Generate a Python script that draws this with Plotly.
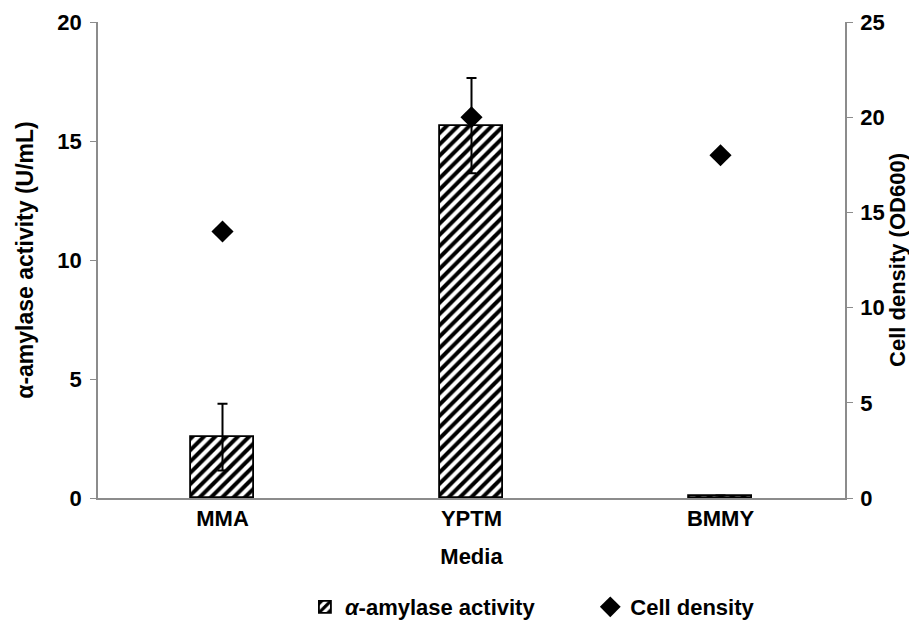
import plotly.graph_objects as go

media = ["MMA", "YPTM", "BMMY"]
amylase = [2.56, 15.65, 0.1]
amylase_err = [1.4, 2.0, 0.0]
cell_density = [14.0, 20.0, 18.0]

font_family = "Liberation Sans, Arial, sans-serif"
FS = 22
FT = 23

fig = go.Figure()
fig.add_trace(go.Bar(
    x=media, y=amylase, name="<b><i>α</i>-amylase activity</b>",
    width=0.25, legend="legend",
    marker=dict(color="white", line=dict(color="black", width=1.8),
                pattern=dict(shape="/", fgcolor="black", bgcolor="white", size=8, solidity=0.5,
                             fgopacity=1)),
    error_y=dict(type="data", array=amylase_err, visible=True, color="black", thickness=2, width=5),
))
fig.add_trace(go.Scatter(
    x=media, y=cell_density, name="<b>Cell density</b>", mode="markers", yaxis="y2",
    legend="legend2",
    marker=dict(symbol="diamond", size=17, color="black"),
))

axis_common = dict(showline=True, linecolor="#8c8c8c", linewidth=1.5, ticks="outside",
                   tickcolor="#8c8c8c", ticklen=6, showgrid=False, zeroline=False,
                   automargin=False,
                   tickfont=dict(family=font_family, size=FS, color="black"))

fig.update_layout(
    width=909, height=613,
    margin=dict(l=90, r=72, t=14, b=123),
    plot_bgcolor="white", paper_bgcolor="white",
    font=dict(family=font_family, color="black"),
    showlegend=True,
    legend=dict(orientation="h", x=0.277, xanchor="left", yref="container", y=0.0228, yanchor="middle",
                font=dict(size=FS, family=font_family), itemwidth=30, bgcolor="rgba(0,0,0,0)"),
    legend2=dict(orientation="h", x=0.659, xanchor="left", yref="container", y=0.0228, yanchor="middle",
                 font=dict(size=FS, family=font_family), itemwidth=30, bgcolor="rgba(0,0,0,0)"),
    xaxis=dict(**{k: v for k, v in axis_common.items() if k != "ticks"}, ticks="",
               ticklabelstandoff=0,
               title=dict(text="<b>Media</b>", font=dict(size=FS), standoff=18),
               tickprefix="<b>", ticksuffix="</b>"),
    yaxis=dict(**axis_common, range=[0, 20], dtick=5, ticklabelstandoff=4,
               title=dict(text="<b>α-amylase activity (U/mL)</b>", font=dict(size=FT), standoff=17),
               tickprefix="<b>", ticksuffix="</b>"),
    yaxis2=dict(**axis_common, range=[0, 25], dtick=5, overlaying="y", side="right",
                ticklabelstandoff=3,
                title=dict(text="<b>Cell density (OD600)</b>", font=dict(size=22), standoff=6),
                tickprefix="<b>", ticksuffix="</b>"),
    bargap=0,
)

fig.write_html("out.html")
